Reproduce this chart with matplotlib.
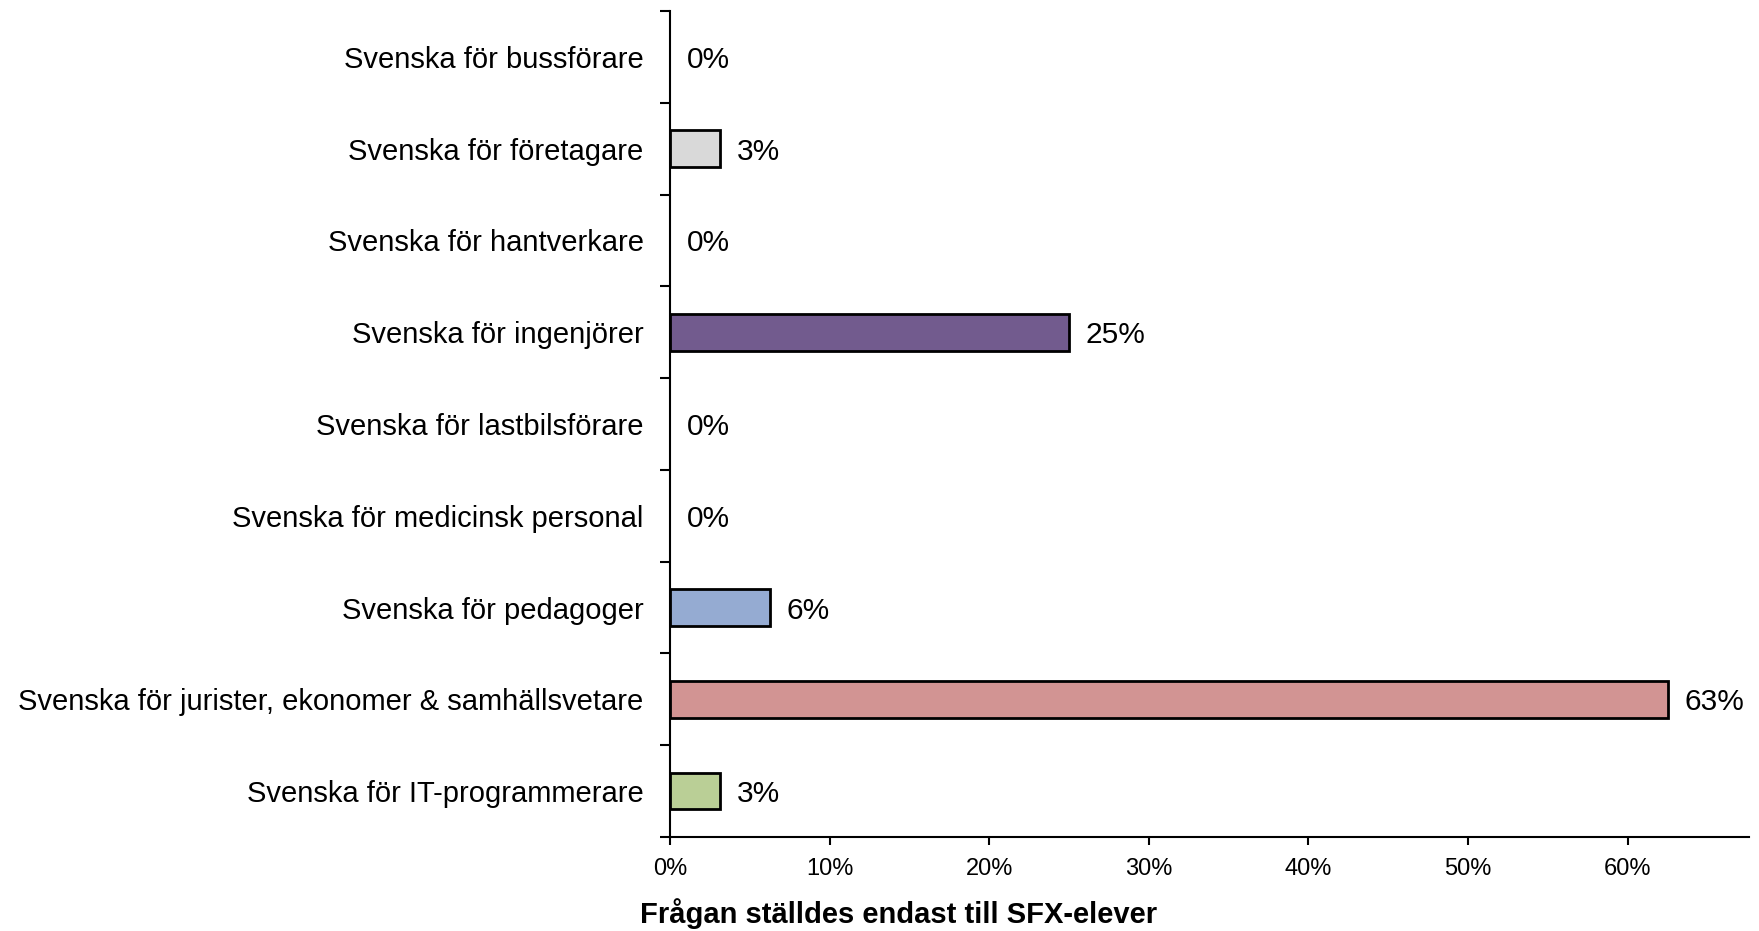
import matplotlib
matplotlib.use("Agg")
import matplotlib.pyplot as plt
import numpy as np

categories = [
    "Svenska för bussförare",
    "Svenska för företagare",
    "Svenska för hantverkare",
    "Svenska för ingenjörer",
    "Svenska för lastbilsförare",
    "Svenska för medicinsk personal",
    "Svenska för pedagoger",
    "Svenska för jurister, ekonomer & samhällsvetare",
    "Svenska för IT-programmerare",
]
values = [0.0, 0.03125, 0.0, 0.25, 0.0, 0.0, 0.0625, 0.625, 0.03125]
value_labels = ["0%", "3%", "0%", "25%", "0%", "0%", "6%", "63%", "3%"]
colors = ["#FFFFFF", "#D9D9D9", "#FFFFFF", "#725B8E", "#FFFFFF", "#FFFFFF",
          "#95ABD2", "#D29493", "#BACF96"]
x_ticks = [0, 0.1, 0.2, 0.3, 0.4, 0.5, 0.6]
x_tick_labels = ["0%", "10%", "20%", "30%", "40%", "50%", "60%"]
x_label = "Frågan ställdes endast till SFX-elever"

plt.rcParams["font.family"] = ["Liberation Sans", "DejaVu Sans"]

fig = plt.figure(figsize=(17.59, 9.31), dpi=100)
ax = fig.add_axes([670 / 1759, 1 - 837 / 931, (1749 - 670) / 1759, (837 - 11) / 931])

n = len(categories)
y = np.arange(n)
for i, (v, c) in enumerate(zip(values, colors)):
    if v > 0:
        ax.barh(y[i], v, height=0.4, color=c, edgecolor="black", linewidth=2)

for i, (v, lab) in enumerate(zip(values, value_labels)):
    ax.annotate(lab, xy=(v, y[i]), xytext=(12, 0), textcoords="offset points",
                ha="left", va="center_baseline", fontsize=21.5)

ax.set_ylim(n - 0.5, -0.5)
ax.set_xlim(0, 0.676)
ax.set_yticks(y)
ax.set_yticklabels(categories, fontsize=21, va="center_baseline")
ax.set_yticks(np.arange(n + 1) - 0.5, minor=True)
ax.tick_params(axis="y", which="major", length=0, pad=19)
ax.tick_params(axis="y", which="minor", length=7, width=1.5, direction="out")
ax.set_xticks(x_ticks)
ax.set_xticklabels(x_tick_labels, fontsize=17)
ax.tick_params(axis="x", length=6, width=1.5, direction="out", pad=9)

for s in ["top", "right"]:
    ax.spines[s].set_visible(False)
ax.spines["left"].set_linewidth(1.5)
ax.spines["bottom"].set_linewidth(1.5)

fig.text(899 / 1759, 1 - 914 / 931, x_label, ha="center", va="center",
         fontsize=21, fontweight="bold")

fig.savefig("out.png", dpi=100)
